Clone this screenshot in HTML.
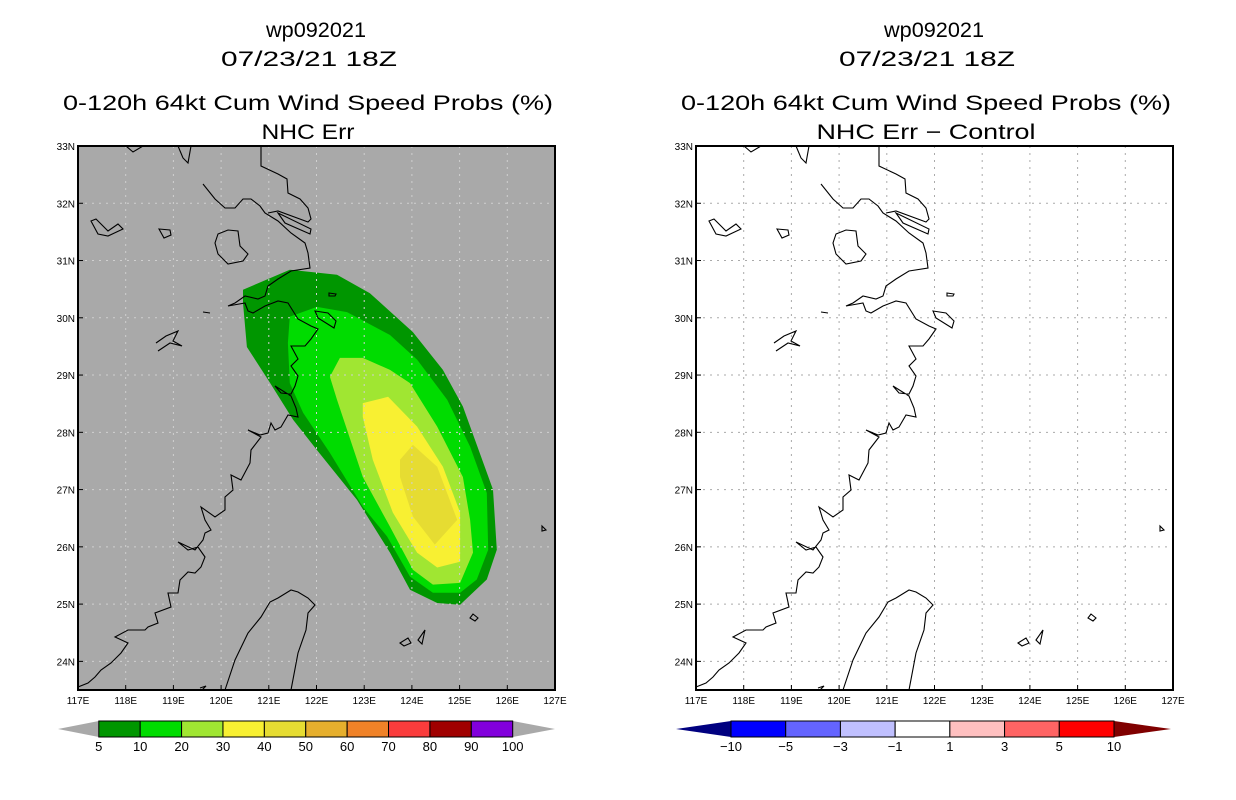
<!DOCTYPE html>
<html><head><meta charset="utf-8"><style>
html,body{margin:0;padding:0;background:#fff;}
svg{display:block;font-family:"Liberation Sans",sans-serif;}
</style></head><body>
<svg id="s" width="1236" height="800" viewBox="0 0 1236 800" xmlns="http://www.w3.org/2000/svg">
<g font-size="21" text-anchor="middle" fill="#000">
<text x="316" y="37" textLength="100" lengthAdjust="spacingAndGlyphs">wp092021</text>
<text x="309" y="66" textLength="176" lengthAdjust="spacingAndGlyphs">07/23/21 18Z</text>
<text x="308" y="110" textLength="490" lengthAdjust="spacingAndGlyphs">0-120h 64kt Cum Wind Speed Probs (%)</text>
<text x="308" y="139" textLength="93" lengthAdjust="spacingAndGlyphs">NHC Err</text>
<text x="934" y="37" textLength="100" lengthAdjust="spacingAndGlyphs">wp092021</text>
<text x="927" y="66" textLength="176" lengthAdjust="spacingAndGlyphs">07/23/21 18Z</text>
<text x="926" y="110" textLength="490" lengthAdjust="spacingAndGlyphs">0-120h 64kt Cum Wind Speed Probs (%)</text>
<text x="926" y="139" textLength="219" lengthAdjust="spacingAndGlyphs">NHC Err − Control</text>
</g>
</svg>
<script>
const lonTicks=[117,118,119,120,121,122,123,124,125,126,127];
const latTicks=[24,25,26,27,28,29,30,31,32,33];
const lonMin=117, lonMax=127, latMin=23.5, latMax=33;
// probability contours (lon, lat)
const c5=[[120.46,30.49],[121.44,30.84],[122.43,30.75],[123.12,30.43],[124.02,29.75],[124.65,29.09],[125.07,28.45],[125.70,27.00],[125.78,25.95],[125.57,25.43],[125.01,24.99],[124.53,25.02],[123.96,25.25],[123.54,25.90],[122.85,26.82],[122.01,27.69],[121.51,28.22],[121.03,28.86],[120.54,29.49],[120.46,30.26]];
const c10=[[121.44,30.02],[122.01,30.19],[122.64,30.10],[123.54,29.70],[124.11,29.27],[124.74,28.57],[125.22,27.75],[125.57,26.94],[125.60,25.95],[125.36,25.43],[125.01,25.20],[124.44,25.20],[123.96,25.48],[123.48,26.18],[122.97,26.70],[122.28,27.64],[121.72,28.34],[121.44,28.86],[121.40,29.56]];
const c20=[[122.49,29.30],[122.97,29.30],[123.54,29.09],[123.96,28.86],[124.53,28.10],[125.07,27.22],[125.22,26.47],[125.28,25.90],[125.01,25.37],[124.44,25.34],[124.02,25.60],[123.54,26.35],[122.97,27.22],[122.43,28.57],[122.28,28.97]];
const c30=[[122.97,28.51],[123.50,28.62],[124.11,28.10],[124.65,27.40],[125.01,26.60],[125.01,25.74],[124.53,25.64],[124.11,25.90],[123.60,26.60],[123.18,27.52],[122.97,28.27]];
const c40=[[123.75,27.52],[124.02,27.78],[124.53,27.40],[124.95,26.47],[124.48,26.04],[124.02,26.53],[123.75,27.22]];
const leftLevels=["5","10","20","30","40","50","60","70","80","90","100"];
const leftColors=["#009600","#00dc00","#a0e632","#f8f032","#e6dc32","#e6af2d","#f08228","#fa3c3c","#a00000","#8200dc"];
const rightLevels=["−10","−5","−3","−1","1","3","5","10"];
const rightColors=["#0000ff","#6464ff","#c0c0ff","#ffffff","#ffc0c0","#ff6464","#ff0000"];

const NS="http://www.w3.org/2000/svg";
const svg=document.getElementById('s');
function mk(tag,at,parent){const e=document.createElementNS(NS,tag);for(const k in at)e.setAttribute(k,at[k]);(parent||svg).appendChild(e);return e;}
const W=477,H=544;
function xS(lon){return (lon-lonMin)/(lonMax-lonMin)*W;}
function yS(lat){return (latMax-lat)/(latMax-latMin)*H;}

const coast="M183,0 L183,20 L200,28 L209,33 L210,47 L222,53 L230,62 L233,73 L230,76 L200,65 L190,67 M125,38 L137,53 L147,62 L157,62 L165,53 L173,53 L182,60 L187,67 L200,75 L213,87 L227,97 L230,107 L232,122 L213,125 L200,133 L190,140 L187,150 L180,153 L167,150 L157,157 L150,160 L167,157 L170,165 L175,167 L187,160 L200,155 L210,157 L220,173 L233,180 L240,183 L233,193 L227,200 L213,200 L220,213 L213,220 L220,230 L217,240 L213,248 L203,247 L197,240 L213,250 L218,262 L220,271 L210,269 L203,281 L197,284 L193,277 L190,287 L182,289 L170,284 L183,291 L173,304 L172,317 L163,334 L153,329 L155,344 L147,351 L147,364 L137,371 L123,361 L127,374 L133,384 L127,387 L125,394 L117,404 L100,396 L110,404 L120,401 L127,411 L123,421 L117,427 L110,426 L102,434 L100,447 L90,447 L93,461 L77,467 L80,477 L70,481 L67,484 L50,484 L37,491 L50,497 L43,507 L33,517 L23,524 L17,531 L10,537 L0,541 "+
"M147,544 L157,514 L170,487 L183,471 L192,456 L200,452 L213,444 L220,446 L230,452 L237,459 L230,467 L228,484 L220,507 L213,544 "+
"M200,67 L233,83 L232,88 L207,77 Z M140,88 L150,84 L160,85 L162,100 L170,108 L165,115 L150,118 L140,108 L137,97 Z M81,83 L92,84 L93,89 L86,92 Z "+
"M13,75 L18,73 L25,80 L30,85 L40,78 L45,83 L30,90 L20,88 Z M78,197 L88,190 L100,185 L95,195 L104,200 L92,197 L80,205 M125,166 L132,167 M237,165 L250,167 L258,175 L256,182 L240,172 Z "+
"M251,147 L258,148 L257,150 L251,150 Z M100,0 L105,12 L110,17 L113,0 M48,0 L55,6 L65,0 M464,380 L468,384 L464,385 Z M395,468 L400,472 L397,475 L392,472 Z M322,497 L330,492 L333,497 L326,500 Z M340,494 L347,484 L344,498 Z M122,542 L128,540 L124,544";

function panel(ox,key,bg,gridCol){
  const g=mk('g',{transform:`translate(${ox},146)`});
  
  
  const r=mk('rect',{x:0,y:0,width:W,height:H,fill:bg},g);
  
  
  if(key==='left'){
    [c5,c10,c20,c30,c40].forEach((c,i)=>{
      const p=mk('polygon',{points:c.map(d=>xS(d[0]).toFixed(1)+','+yS(d[1]).toFixed(1)).join(' '),fill:leftColors[i]},g);
      
      
    });
  }
  lonTicks.slice(1,-1).forEach(l=>{
    const ln=mk('line',{x1:xS(l),x2:xS(l),y1:0,y2:H,stroke:gridCol,'stroke-width':1,'stroke-dasharray':'2,5'},g);
    
    
  });
  latTicks.slice(0,-1).forEach(l=>{
    const ln=mk('line',{x1:0,x2:W,y1:yS(l),y2:yS(l),stroke:gridCol,'stroke-width':1,'stroke-dasharray':'2,5'},g);
    
    
  });
  const cp=mk('path',{d:coast,fill:'none',stroke:'#000','stroke-width':1.1},g);
  
  
  const fr=mk('rect',{x:0,y:0,width:W,height:H,fill:'none',stroke:'#000','stroke-width':2},g);
  
  
  lonTicks.forEach(l=>{
    mk('line',{x1:xS(l),x2:xS(l),y1:H,y2:H-5,stroke:'#000'},g);
    const t=mk('text',{x:xS(l),y:H+14,'font-size':10,'text-anchor':'middle'},g);
    t.textContent=l+'E';
    
    
  });
  latTicks.forEach(l=>{
    mk('line',{x1:0,x2:5,y1:yS(l),y2:yS(l),stroke:'#000'},g);
    const t=mk('text',{x:-3,y:yS(l)+4,'font-size':10,'text-anchor':'end'},g);
    t.textContent=l+'N';
    
    
  });
}
panel(78,'left','#a9a9a9','#d0d0d0');
panel(696,'right','#ffffff','#aaaaaa');

function colorbar(key,x0,x1,tip0,tip1,levels,colors,triL,triR){
  const g=mk('g',{});
  
  
  const y0=721,y1=737,bw=(x1-x0)/colors.length;
  mk('polygon',{points:`${tip0},729 ${x0},${y0} ${x0},${y1}`,fill:triL},g);
  mk('polygon',{points:`${tip1},729 ${x1},${y0} ${x1},${y1}`,fill:triR},g);
  colors.forEach((c,i)=>{
    const r=mk('rect',{x:x0+i*bw,y:y0,width:bw,height:y1-y0,fill:c,stroke:'#000','stroke-width':1},g);
    
    
  });
  levels.forEach((l,i)=>{
    const t=mk('text',{x:x0+i*bw,y:751,'font-size':13,'text-anchor':'middle'},g);
    t.textContent=l;
    
    
  });
}
colorbar('left',98.8,512.7,58,555,leftLevels,leftColors,'#a9a9a9','#a9a9a9');
colorbar('right',731,1114,676,1171,rightLevels,rightColors,'#000080','#800000');
</script>
</body></html>
